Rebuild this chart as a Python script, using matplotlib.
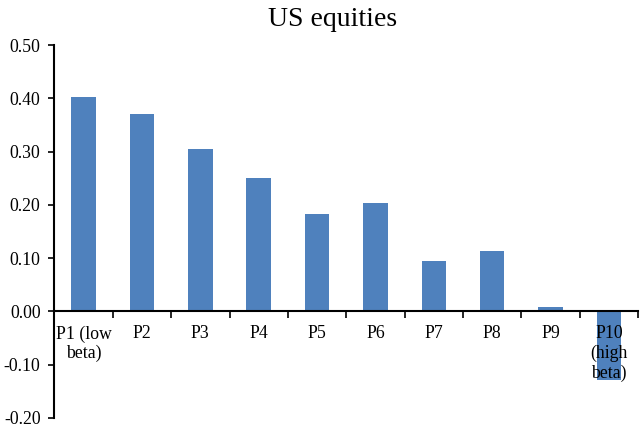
import matplotlib.pyplot as plt
import numpy as np
from matplotlib.ticker import FixedLocator, FormatStrFormatter

plt.rcParams['font.family'] = ['Liberation Serif', 'DejaVu Serif']

carteras = ['P1 (low\nbeta)', 'P2', 'P3', 'P4', 'P5', 'P6', 'P7', 'P8', 'P9', 'P10\n(high\nbeta)']
valores = [0.403, 0.370, 0.305, 0.251, 0.182, 0.204, 0.095, 0.113, 0.009, -0.128]

fig = plt.figure(figsize=(6.4, 4.29), dpi=100)
ax = fig.add_axes([0.085, 0.026, 0.912, 0.869])

x = np.arange(len(carteras))
ax.bar(x, valores, width=0.42, color='#4F81BD', zorder=1)

ax.set_xlim(-0.5, len(carteras) - 0.5)
ax.set_ylim(-0.2, 0.5)
ax.set_yticks(np.arange(-0.2, 0.51, 0.1))
ax.yaxis.set_major_formatter(FormatStrFormatter('%.2f'))

# ticks en los limites, etiquetas centradas
ax.xaxis.set_major_locator(FixedLocator(np.arange(-0.5, len(carteras), 1.0)))
ax.xaxis.set_minor_locator(FixedLocator(x))
ax.set_xticklabels([''] * (len(carteras) + 1))
ax.set_xticklabels(carteras, minor=True, va='top', ha='center', linespacing=1.0)
ax.tick_params(axis='x', which='major', direction='out', length=5, width=1.2)
ax.tick_params(axis='x', which='minor', length=0, pad=10, labelsize=12.8)
ax.tick_params(axis='y', direction='out', length=4, width=1.2, pad=6, labelsize=12.8)

ax.spines['top'].set_visible(False)
ax.spines['right'].set_visible(False)
ax.spines['bottom'].set_position(('data', 0))
ax.spines['bottom'].set_linewidth(1.5)
ax.spines['left'].set_linewidth(1.5)

fig.text(0.52, 0.955, 'US equities', ha='center', va='center', fontsize=20)

fig.savefig('out.png', dpi=100)
